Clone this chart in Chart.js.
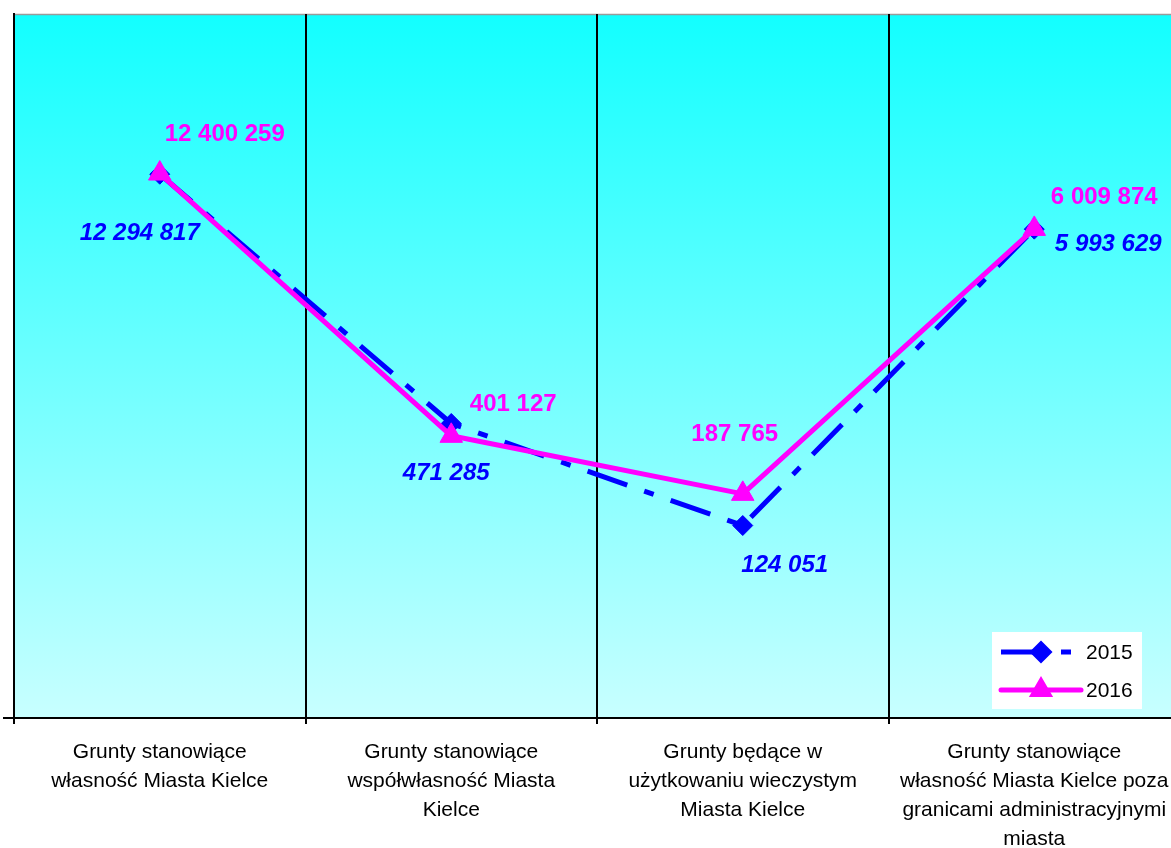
<!DOCTYPE html>
<html>
<head>
<meta charset="utf-8">
<script src="https://cdn.jsdelivr.net/npm/chart.js@4/dist/chart.umd.min.js"></script>
<style>
  html, body { margin: 0; padding: 0; background: #ffffff; overflow: hidden; }
  #wrap { width: 1171px; height: 848px; overflow: hidden; }
  canvas { display: block; }
</style>
</head>
<body>
<div id="wrap"><canvas id="c" width="1194" height="848" style="width:1194px;height:848px"></canvas></div>
<script>
// ---- data ----
const categories = [
  ["Grunty stanowiące", "własność Miasta Kielce"],
  ["Grunty stanowiące", "współwłasność Miasta", "Kielce"],
  ["Grunty będące w", "użytkowaniu wieczystym", "Miasta Kielce"],
  ["Grunty stanowiące", "własność Miasta Kielce poza", "granicami administracyjnymi", "miasta"]
];
const seriesNames = ["2015", "2016"];
const values2015 = [12294817, 471285, 124051, 5993629];
const values2016 = [12400259, 401127, 187765, 6009874];

// label placement (offset of label centre from the point, px)
const labelOffsets2015 = [[-20, 59], [-5, 50], [42, 40], [74, 15]];
const labelOffsets2016 = [[65, -39], [62, -31], [-8, -59], [70, -32]];

const BLUE = '#0000FF';
const MAGENTA = '#FF00FF';
const DASH = [42, 18, 10, 18];

function fmt(v) {
  return String(v).replace(/\B(?=(\d{3})+(?!\d))/g, ' ');
}

const bgPlugin = {
  id: 'bg',
  beforeDraw(chart) {
    const { ctx, chartArea: a } = chart;
    const g = ctx.createLinearGradient(0, a.top, 0, a.bottom);
    g.addColorStop(0, '#12FFFF');
    g.addColorStop(1, '#C8FFFF');
    ctx.save();
    ctx.fillStyle = g;
    ctx.fillRect(a.left, a.top, a.right - a.left, a.bottom - a.top);
    ctx.strokeStyle = '#9a9a9a';
    ctx.lineWidth = 1.5;
    ctx.beginPath();
    ctx.moveTo(a.left, a.top + 0.5);
    ctx.lineTo(a.right, a.top + 0.5);
    ctx.stroke();
    ctx.restore();
  }
};

const labelPlugin = {
  id: 'valueLabels',
  afterDatasetsDraw(chart) {
    const { ctx } = chart;
    chart.data.datasets.forEach((ds, di) => {
      const meta = chart.getDatasetMeta(di);
      const offs = ds.labelOffsets;
      ctx.save();
      ctx.font = ds.labelFont;
      ctx.fillStyle = ds.borderColor;
      ctx.textAlign = 'center';
      ctx.textBaseline = 'middle';
      meta.data.forEach((pt, i) => {
        ctx.fillText(fmt(ds.data[i]), pt.x + offs[i][0], pt.y + offs[i][1]);
      });
      ctx.restore();
    });
  }
};

const legendPlugin = {
  id: 'boxLegend',
  afterDraw(chart) {
    const { ctx } = chart;
    const x0 = 992, y0 = 632, w = 150, h = 77;
    ctx.save();
    ctx.fillStyle = '#ffffff';
    ctx.fillRect(x0, y0, w, h);
    const rows = [652, 690];
    chart.data.datasets.forEach((ds, i) => {
      const y = rows[i];
      ctx.strokeStyle = ds.borderColor;
      ctx.lineWidth = ds.borderWidth;
      ctx.setLineDash(ds.borderDash || []);
      ctx.lineCap = ds.borderDash && ds.borderDash.length ? 'butt' : 'round';
      ctx.beginPath();
      ctx.moveTo(1001, y);
      ctx.lineTo(1081, y);
      ctx.stroke();
      ctx.setLineDash([]);
      Chart.helpers.drawPoint(ctx, {
        pointStyle: ds.pointStyle,
        radius: ds.legendPointRadius,
        rotation: 0,
        borderWidth: 1
      }, 1041, y);
      ctx.fillStyle = ds.borderColor;
      ctx.fill();
      ctx.fillStyle = '#000000';
      ctx.font = '21px Arial, "Liberation Sans", sans-serif';
      ctx.textAlign = 'left';
      ctx.textBaseline = 'middle';
      ctx.fillText(ds.label, 1086, y + 1);
    });
    ctx.restore();
  }
};

const yTickPlugin = {
  id: 'yTick',
  afterDraw(chart) {
    const { ctx, chartArea: a } = chart;
    ctx.save();
    ctx.strokeStyle = '#000';
    ctx.lineWidth = 2;
    ctx.beginPath();
    ctx.moveTo(3, a.bottom);
    ctx.lineTo(a.left, a.bottom);
    ctx.stroke();
    ctx.restore();
  }
};

new Chart(document.getElementById('c'), {
  type: 'line',
  data: {
    labels: categories,
    datasets: [
      {
        label: seriesNames[0],
        data: values2015,
        order: 1,
        borderColor: BLUE,
        backgroundColor: BLUE,
        borderWidth: 5,
        borderDash: DASH,
        borderCapStyle: 'butt',
        pointStyle: 'rectRot',
        pointRadius: 10,
        pointHoverRadius: 10,
        legendPointRadius: 8,
        pointBackgroundColor: BLUE,
        pointBorderColor: BLUE,
        pointBorderWidth: 1,
        tension: 0,
        fill: false,
        labelOffsets: labelOffsets2015,
        labelFont: 'italic bold 24px Arial, "Liberation Sans", sans-serif'
      },
      {
        label: seriesNames[1],
        data: values2016,
        order: 0,
        borderColor: MAGENTA,
        backgroundColor: MAGENTA,
        borderWidth: 5,
        borderCapStyle: 'round',
        borderJoinStyle: 'round',
        pointStyle: 'triangle',
        pointRadius: 13,
        pointHoverRadius: 13,
        legendPointRadius: 9,
        pointBackgroundColor: MAGENTA,
        pointBorderColor: MAGENTA,
        pointBorderWidth: 1,
        tension: 0,
        fill: false,
        labelOffsets: labelOffsets2016,
        labelFont: 'bold 24px Arial, "Liberation Sans", sans-serif'
      }
    ]
  },
  options: {
    responsive: false,
    animation: false,
    devicePixelRatio: 1,
    layout: { padding: { left: 0, top: 12, right: 8, bottom: 0 } },
    plugins: {
      legend: { display: false },
      tooltip: { enabled: false }
    },
    scales: {
      x: {
        type: 'category',
        offset: true,
        grid: {
          display: true,
          offset: true,
          color: '#000000',
          lineWidth: 2,
          drawOnChartArea: true,
          drawTicks: true,
          tickLength: 6
        },
        border: { display: true, color: '#000000', width: 2 },
        ticks: {
          autoSkip: false,
          maxRotation: 0,
          minRotation: 0,
          color: '#000000',
          padding: 14,
          font: { family: 'Arial, "Liberation Sans", sans-serif', size: 21, lineHeight: 29 / 21 }
        },
        afterFit(scale) {
          scale.height = 130;
          scale.paddingLeft = 0;
          scale.paddingRight = 0;
        }
      },
      y: {
        type: 'logarithmic',
        min: 10000,
        max: 100000000,
        grid: { display: true, drawOnChartArea: false, drawTicks: true, tickLength: 7, color: 'rgba(0,0,0,0)' },
        border: { display: true, color: '#000000', width: 2 },
        ticks: { display: false }
      }
    }
  },
  plugins: [bgPlugin, labelPlugin, legendPlugin, yTickPlugin]
});
</script>
</body>
</html>
